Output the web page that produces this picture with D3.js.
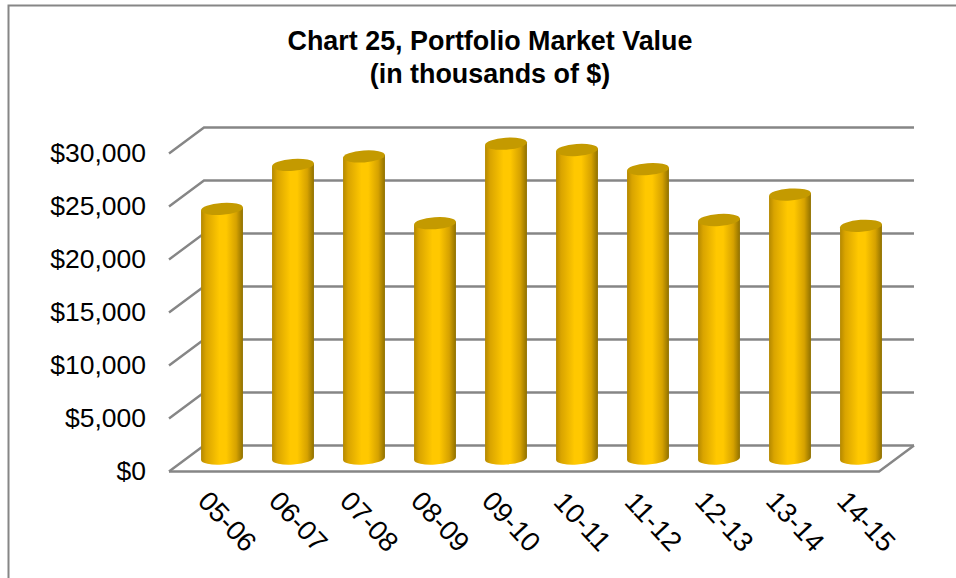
<!DOCTYPE html>
<html><head><meta charset="utf-8">
<script src="https://cdn.jsdelivr.net/npm/d3@7"></script>
<style>html,body{margin:0;padding:0;background:#fff}svg{display:block}text{font-family:"Liberation Sans",Arial,sans-serif;fill:#000}</style>
</head><body><svg id="c" width="956" height="578"></svg>
<script>
const categories=["05-06","06-07","07-08","08-09","09-10","10-11","11-12","12-13","13-14","14-15"];
const values=[23550,27700,28500,22200,29700,29100,27300,22500,24900,21950];
const tickValues=[0,5000,10000,15000,20000,25000,30000];
const titleLines=["Chart 25, Portfolio Market Value","(in thousands of $)"];

const svg=d3.select("#c");
const W=956,H=578;
const depthX=35,depthY=-26;
const floorLeft=169,floorRight=879,y0=471.5,y30=153.5;
const y=d3.scaleLinear().domain([0,30000]).range([y0,y30]);
const x=d3.scaleBand().domain(categories).range([floorLeft,floorRight]);
const barW=42,ry=6,tilt=-4;
const mid={x:depthX/2,y:depthY/2};

const defs=svg.append("defs");
const g=defs.append("linearGradient").attr("id","cyl").attr("x1",0).attr("x2",1).attr("y1",0).attr("y2",0);
[[0,"#b48800"],[0.12,"#d9a400"],[0.44,"#ffc800"],[0.6,"#ffc800"],[0.84,"#d6a200"],[1,"#8f7000"]]
 .forEach(([o,c])=>g.append("stop").attr("offset",o).attr("stop-color",c));

svg.append("path").attr("d",`M8.5,${H}V5.5H${W}`).attr("fill","none").attr("stroke","#868686").attr("stroke-width",2);

const grid=svg.append("g").attr("fill","none").attr("stroke","#868686").attr("stroke-width",2.4);
tickValues.forEach(v=>{
  grid.append("path").attr("d",d3.line()([[floorLeft,y(v)],[floorLeft+depthX,y(v)+depthY],[floorRight+depthX,y(v)+depthY]]));
});
grid.append("path").attr("d",d3.line()([[floorLeft,y0],[floorRight,y0],[floorRight+depthX,y0+depthY]]));

const bars=svg.append("g").selectAll("g").data(categories).join("g");
const dxT=barW/2*Math.cos(tilt*Math.PI/180), dyT=barW/2*Math.sin(tilt*Math.PI/180);
bars.append("path")
 .attr("fill","url(#cyl)")
 .attr("d",(c,i)=>{
   const cx=x(c)+x.bandwidth()/2+mid.x;
   const b=y(0)+mid.y, t=y(values[i])+mid.y;
   return `M${cx-dxT},${t-dyT}L${cx-dxT},${b-dyT}A${barW/2},${ry} ${tilt} 0 0 ${cx+dxT},${b+dyT}L${cx+dxT},${t+dyT}Z`;
 });
bars.append("ellipse")
 .attr("rx",barW/2).attr("ry",ry).attr("fill","#c49a00")
 .attr("transform",(c,i)=>`translate(${x(c)+x.bandwidth()/2+mid.x},${y(values[i])+mid.y}) rotate(${tilt})`);

const yAxis=d3.axisLeft(y).tickValues(tickValues).tickSize(0).tickPadding(0).tickFormat(d=>"$"+d3.format(",")(d));
const ya=svg.append("g").attr("transform","translate(146,0)").call(yAxis);
ya.select(".domain").remove();
ya.selectAll("text").attr("font-size",26.5).attr("font-family",'"Liberation Sans"').attr("fill","#000");

const xa=svg.append("g");
xa.selectAll("text").data(categories).join("text")
 .attr("font-size",27.5).attr("text-anchor","middle").attr("dominant-baseline","central")
 .attr("transform",c=>`translate(${x(c)+x.bandwidth()/2+23},${y0+50}) rotate(47)`)
 .text(c=>c);

svg.append("g").selectAll("text").data(titleLines).join("text")
 .attr("x",490).attr("y",(d,i)=>50+i*33).attr("text-anchor","middle").attr("font-weight","bold").attr("font-size",26.9)
 .text(d=>d);
</script></body></html>
